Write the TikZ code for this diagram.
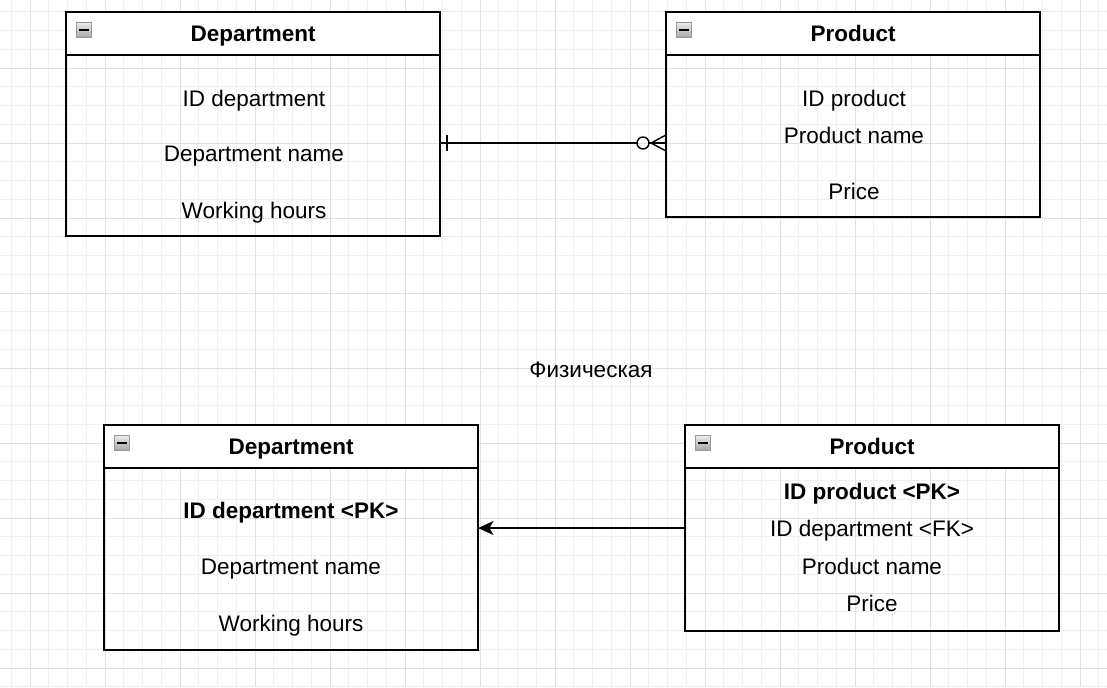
\documentclass[tikz,border=0pt]{standalone}
\usepackage{fontspec}
\setmainfont{Liberation Sans}
\usetikzlibrary{arrows.meta}

\begin{document}
\begin{tikzpicture}[x=0.025cm,y=-0.025cm,
  gridminor/.style={draw=black!6,line width=0.45pt},
  gridmajor/.style={draw=black!12,line width=0.55pt},
  head/.style={draw,line width=1.4pt,fill=white,anchor=north west,outer sep=0pt,minimum width=9.35cm,minimum height=1.08cm,inner sep=0pt,text height=11.5pt,text depth=0pt,font=\bfseries\fontsize{16}{19}\selectfont},
  body/.style={draw,line width=1.4pt,anchor=north,outer sep=0pt,minimum width=9.35cm,inner sep=0pt},
  row/.style={font=\fontsize{16}{19}\selectfont,inner sep=1pt,text height=11.5pt,text depth=0pt},
  keyrow/.style={row,font=\bfseries\fontsize{16}{19}\selectfont},
  minusbox/.style={draw=black!40,line width=0.8pt,top color=black!8,bottom color=black!35,minimum size=0.37cm,inner sep=0pt,anchor=north west},
  relation/.style={line width=1pt}]
\useasboundingbox (0,0) rectangle (1107,687);
% background grid
\foreach \i in {0,...,58} \draw[gridminor] ({11.25+18.75*\i},0) -- ++(0,687);
\foreach \i in {0,...,36} \draw[gridminor] (0,{11.75+18.75*\i}) -- ++(1107,0);
\foreach \i in {0,...,14} \draw[gridmajor] ({30+75*\i},0) -- ++(0,687);
\foreach \i in {0,...,9} \draw[gridmajor] (0,{-7+75*\i}) -- ++(1107,0);

% logical model
\node[head] (dephead) at (66,12) {Department};
\node[body,minimum height=4.525cm] (depbody) at (dephead.south) {};
\node[row] (depid) at (254,98) {ID department};
\node[row] (depname) at (254,153) {Department name};
\node[row] (dephours) at (254,210) {Working hours};

\node[head] (prodhead) at (666,12) {Product};
\node[body,minimum height=4.05cm] (prodbody) at (prodhead.south) {};
\node[row] (prodid) at (854,98) {ID product};
\node[row] (prodname) at (854,135) {Product name};
\node[row] (prodprice) at (854,191) {Price};

% physical model
\node[row] (phys) at (591,369) {Физическая};

\node[head] (pdephead) at (104,425) {Department};
\node[body,minimum height=4.55cm] (pdepbody) at (pdephead.south) {};
\node[keyrow] (pdepid) at (291,510) {ID department <PK>};
\node[row] (pdepname) at (291,566) {Department name};
\node[row] (pdephours) at (291,623) {Working hours};

\node[head] (pprodhead) at (685,425) {Product};
\node[body,minimum height=4.075cm] (pprodbody) at (pprodhead.south) {};
\node[keyrow] (pprodid) at (872,491) {ID product <PK>};
\node[row] (pprodfk) at (872,528) {ID department <FK>};
\node[row] (pprodname) at (872,566) {Product name};
\node[row] (pprodprice) at (872,603) {Price};

% collapse icons
\foreach \h in {dephead,prodhead,pdephead,pprodhead}
  \node[minusbox] (\h-icon) at ([shift={(10,10)}]\h.north west) {\rule{0.25cm}{1.8pt}};

% relations
\coordinate (toplevel) at (0,143);
\coordinate (botlevel) at (0,528);
\coordinate (one) at (depbody.east |- toplevel);
\coordinate (many) at (prodbody.west |- toplevel);
\coordinate (crow) at ([shift={(-15,0)}]many);
\coordinate (ring) at ([shift={(-23,0)}]many);
\draw[relation] (one) -- ([shift={(-6,0)}]ring);
\draw[relation] ([shift={(7,-8)}]one) -- ([shift={(7,8)}]one);
\draw[relation] (ring) circle[radius=6];
\draw[relation] ([shift={(6,0)}]ring) -- (many);
\draw[relation] ([shift={(0,-8)}]many) -- (crow) -- ([shift={(0,8)}]many);

\draw[relation,-{Stealth[length=11pt,width=10pt,inset=3pt]}] (pprodbody.west |- botlevel) -- (pdepbody.east |- botlevel);
\end{tikzpicture}
\end{document}
